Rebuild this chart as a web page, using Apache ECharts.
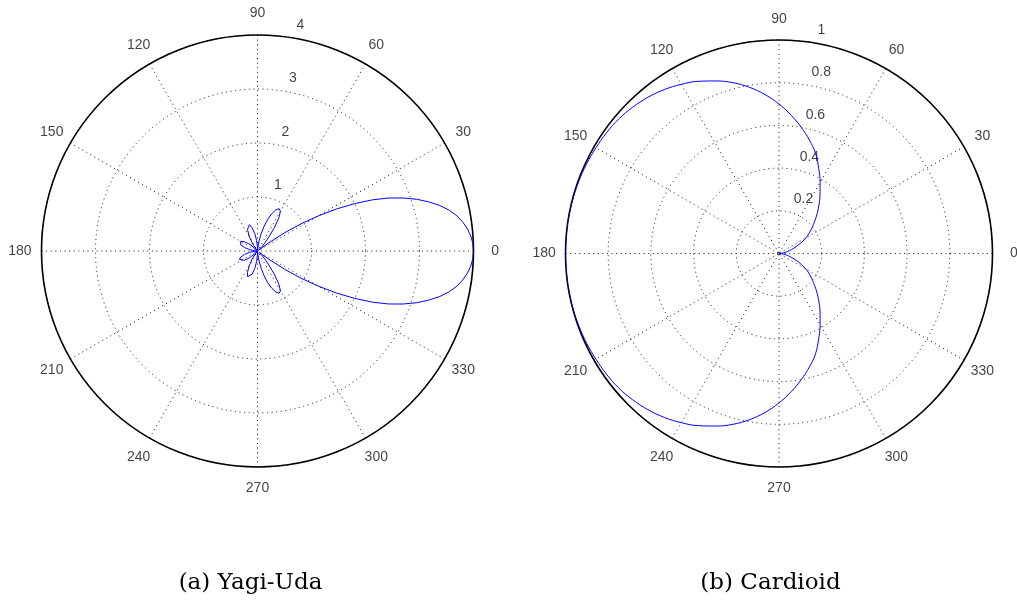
<!DOCTYPE html>
<html>
<head>
<meta charset="utf-8">
<script src="https://cdn.jsdelivr.net/npm/echarts@6/dist/echarts.min.js"></script>
<style>html,body{margin:0;padding:0;background:#fff}#c{width:1017px;height:600px}</style>
</head>
<body>
<div id="c"></div>
<script>
// ---- data ----
const angleTicks = [0, 30, 60, 90, 120, 150, 180, 210, 240, 270, 300, 330];
const yagiRTicks = [1, 2, 3, 4];
const cardRTicks = [0.2, 0.4, 0.6, 0.8, 1];

const yagiAngles = [0,2,4,6,8,10,12,14,16,18,20,22,24,26,28,30,32,34,36,38,40,42,45,48,51,54,57,60,63,66,69,72,75,78,81,84,87,91,95,99,103,107,111,115,119,123,127,131,135,140,145,150,155,160,165,170,175,180,
  185,190,195,200,205,210,215,220,225,229,233,237,241,245,249,253,257,261,265,269,273,276,279,282,285,288,291,294,297,300,303,306,309,312,315,318,320,322,324,326,328,330,332,334,336,338,340,342,344,346,348,350,352,354,356,358,360];
const yagiR = [4.0,3.99,3.96,3.91,3.84,3.75,3.63,3.48,3.30,3.10,2.87,2.62,2.33,2.0,1.66,1.30,0.95,0.60,0.25,0.02,0.0,0.04,0.12,0.21,0.33,0.52,0.72,0.85,0.88,0.83,0.74,0.62,0.48,0.33,0.19,0.07,0.0,0.08,0.2,0.33,0.44,0.51,0.51,0.44,0.32,0.19,0.07,0.0,0.08,0.2,0.3,0.36,0.37,0.33,0.25,0.15,0.06,0.0,
  0.06,0.15,0.25,0.33,0.37,0.36,0.3,0.2,0.08,0.0,0.07,0.19,0.32,0.44,0.51,0.51,0.44,0.33,0.2,0.08,0.0,0.07,0.19,0.33,0.48,0.62,0.74,0.83,0.88,0.85,0.72,0.52,0.33,0.21,0.12,0.04,0.0,0.02,0.25,0.60,0.95,1.30,1.66,2.0,2.33,2.62,2.87,3.10,3.30,3.48,3.63,3.75,3.84,3.91,3.96,3.99,4.0];

const cardAngles = [0,5,10,15,20,25,30,35,40,45,50,55,60,65,70,75,80,85,90,95,100,105,110,115,120,125,130,135,140,145,150,155,160,165,170,175,180,
  185,190,195,200,205,210,215,220,225,230,235,240,245,250,255,260,265,270,275,280,285,290,295,300,305,310,315,320,325,330,335,340,345,350,355,360];
const cardR = [0,0.012,0.03,0.05,0.075,0.108,0.145,0.177,0.21,0.248,0.29,0.335,0.385,0.44,0.50,0.55,0.60,0.65,0.70,0.747,0.79,0.828,0.86,0.89,0.915,0.937,0.955,0.969,0.98,0.986,0.99,0.994,0.997,0.999,1.0,1.0,1.0,
  1.0,1.0,0.999,0.997,0.994,0.99,0.986,0.98,0.969,0.955,0.937,0.915,0.89,0.86,0.828,0.79,0.747,0.70,0.65,0.60,0.55,0.50,0.44,0.385,0.335,0.29,0.248,0.21,0.177,0.145,0.108,0.075,0.05,0.03,0.012,0];

const captions = ['(a) Yagi-Uda', '(b) Cardioid'];

// ---- chart ----
const LEFT = {c: [257.5, 251], R: 216};
const RIGHT = {c: [779, 253.5], R: 213.5};
const dotted = {color: '#111', width: 1, type: [1, 3.6]};
const lblFont = {fontFamily: 'Liberation Sans', fontSize: 14, color: '#111'};

function gridAngle(idx) {
  return {polarIndex: idx, startAngle: 0, clockwise: false, min: 0, max: 360, interval: 30,
    axisLine: {show: true, lineStyle: {color: '#000', width: 1.6}},
    axisTick: {show: false}, axisLabel: {show: false},
    splitLine: {show: true, lineStyle: dotted}, z: 1};
}
function gridRadius(idx, max, step) {
  return {polarIndex: idx, min: 0, max: max, interval: step,
    axisLine: {show: false}, axisTick: {show: false}, axisLabel: {show: false},
    splitLine: {show: true, lineStyle: dotted}, splitArea: {show: false}};
}
function hiddenAngle(idx) {
  return {polarIndex: idx, show: false, startAngle: 0, clockwise: false, min: 0, max: 360};
}
function hiddenRadius(idx) {
  return {polarIndex: idx, show: false, min: 0, max: 1};
}
function angleLabelSeries(idx) {
  return {type: 'scatter', coordinateSystem: 'polar', polarIndex: idx, symbolSize: 1, clip: false,
    itemStyle: {color: 'rgba(0,0,0,0)'}, silent: true,
    data: angleTicks.map(a => ({name: String(a), value: [1, a]})),
    label: Object.assign({show: true, position: 'inside', align: 'center', verticalAlign: 'middle',
      formatter: p => p.name}, lblFont)};
}
function radiusLabelSeries(idx, ticks, step) {
  return {type: 'scatter', coordinateSystem: 'polar', polarIndex: idx, symbolSize: 1, clip: false,
    itemStyle: {color: 'rgba(0,0,0,0)'}, silent: true,
    data: ticks.map(t => ({name: String(t), value: [t + step / 20, 82]})),
    label: Object.assign({show: true, position: 'inside', align: 'left', verticalAlign: 'bottom',
      offset: [8.5, -2.7], formatter: p => p.name}, lblFont)};
}

const chart = echarts.init(document.getElementById('c'), null, {renderer: 'canvas'});
chart.setOption({
  animation: false,
  backgroundColor: '#fff',
  polar: [
    {center: LEFT.c, radius: LEFT.R},
    {center: LEFT.c, radius: LEFT.R * 1.1},
    {center: RIGHT.c, radius: RIGHT.R},
    {center: RIGHT.c, radius: RIGHT.R * 1.1}
  ],
  angleAxis: [gridAngle(0), hiddenAngle(1), gridAngle(2), hiddenAngle(3)],
  radiusAxis: [gridRadius(0, 4, 1), hiddenRadius(1), gridRadius(2, 1, 0.2), hiddenRadius(3)],
  series: [
    {type: 'line', coordinateSystem: 'polar', polarIndex: 0, showSymbol: false, clip: false,
      lineStyle: {color: '#0000ff', width: 1}, z: 5,
      data: yagiAngles.map((a, i) => [yagiR[i], a])},
    {type: 'line', coordinateSystem: 'polar', polarIndex: 2, showSymbol: false, smooth: 0.4, clip: false,
      lineStyle: {color: '#0000ff', width: 1}, z: 5,
      data: cardAngles.map((a, i) => [cardR[i], a])},
    angleLabelSeries(1),
    angleLabelSeries(3),
    radiusLabelSeries(0, yagiRTicks, 1),
    radiusLabelSeries(2, cardRTicks, 0.2)
  ],
  graphic: [
    {type: 'text', x: 250.5, y: 583, style: {text: captions[0], font: '23px "DejaVu Serif"', fill: '#000', align: 'center', verticalAlign: 'middle'}},
    {type: 'text', x: 770.5, y: 583, style: {text: captions[1], font: '23px "DejaVu Serif"', fill: '#000', align: 'center', verticalAlign: 'middle'}}
  ]
});
</script>
</body>
</html>
